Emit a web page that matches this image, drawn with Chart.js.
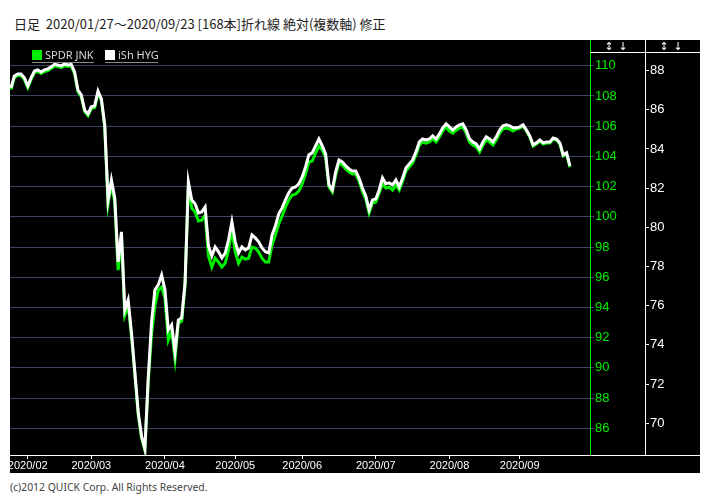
<!DOCTYPE html>
<html><head><meta charset="utf-8">
<script src="https://cdn.jsdelivr.net/npm/chart.js@4"></script>
<style>
html,body{margin:0;padding:0;background:#fff;width:711px;height:504px;overflow:hidden;position:relative;}
#title{position:absolute;left:14px;top:15px;font:13px "Noto Sans CJK JP";color:#222;white-space:pre;line-height:18px;}
#wrap{position:absolute;left:10px;top:40px;width:690px;height:433px;background:#000;}
#wrap canvas{display:block;}
.sq{position:absolute;width:10px;height:10px;}
.lt{position:absolute;font:11px "Noto Sans";color:#d8d8d8;line-height:13px;white-space:pre;}
.ul{position:absolute;height:1px;background:#8a8a8a;}
.ar{position:absolute;font:11px "DejaVu Sans";color:#fff;line-height:12px;width:12px;text-align:center;}
#foot{position:absolute;left:10px;top:480px;font:10.4px "Noto Sans";color:#444;line-height:14px;white-space:pre;}
</style></head>
<body>
<div id="title">日足  2020/01/27～2020/09/23 [168本]折れ線 絶対(複数軸) 修正</div>
<div id="wrap"><canvas id="c" width="690" height="433"></canvas></div>
<div class="sq" style="left:32px;top:50px;background:#00ee00"></div>
<div class="lt" style="left:45px;top:48px">SPDR JNK</div>
<div class="ul" style="left:32px;top:62px;width:62px"></div>
<div class="sq" style="left:105px;top:50px;background:#fff"></div>
<div class="lt" style="left:118px;top:48px">iSh HYG</div>
<div class="ul" style="left:105px;top:62px;width:53px"></div>
<div class="ar" style="left:603px;top:41px">↕</div>
<div class="ar" style="left:617px;top:41px">↓</div>
<div class="ar" style="left:658px;top:41px">↕</div>
<div class="ar" style="left:672px;top:41px">↓</div>
<div id="foot">(c)2012 QUICK Corp. All Rights Reserved.</div>
<script>
const monthIdx = [5, 24, 46, 67, 87, 109, 131, 152];
const monthLabels = ["2020/02","2020/03","2020/04","2020/05","2020/06","2020/07","2020/08","2020/09"];
const jnkTicks = [86,88,90,92,94,96,98,100,102,104,106,108,110];
const hygTicks = [70,72,74,76,78,80,82,84,86,88];

const jnkValues = [
108.42,109.22,109.35,109.35,109.09,108.56,109.09,109.55,109.62,109.48,
109.62,109.68,109.81,109.98,109.95,109.88,110.01,109.95,109.98,109.48,
108.29,107.96,106.97,106.70,107.17,107.23,108.23,107.70,105.97,100.84,
102.17,100.97,96.47,98.66,93.49,94.15,92.10,89.58,86.93,85.34,
84.55,89.05,92.23,94.09,95.15,95.34,94.62,91.83,92.43,90.58,
92.96,93.09,95.41,102.10,100.58,100.31,99.72,99.78,100.11,97.40,
96.67,97.26,97.00,96.67,96.93,97.79,99.12,97.66,96.93,97.33,
97.20,97.26,97.99,97.93,97.66,97.26,97.00,97.00,98.13,98.79,
99.52,100.05,100.64,101.11,101.44,101.50,101.70,102.17,102.83,103.62,
103.69,104.22,104.68,104.42,103.95,101.97,101.64,102.76,103.56,103.42,
103.16,102.96,102.83,102.83,102.36,101.70,101.17,100.25,100.91,100.97,
101.57,102.17,101.90,101.97,101.77,102.10,101.77,102.36,103.03,103.29,
103.56,104.09,104.75,104.95,104.88,104.95,105.15,104.95,105.28,105.68,
105.94,105.68,105.54,105.74,105.87,105.94,105.54,104.95,104.75,104.62,
104.29,104.75,105.08,104.95,104.75,105.08,105.54,105.81,105.87,105.81,
105.68,105.81,105.87,106.01,105.68,105.28,104.68,104.81,105.01,104.81,
104.88,104.88,105.15,105.08,104.81,104.02,104.15,103.29
];
const hygValues = [
87.12,87.73,87.83,87.83,87.63,87.22,87.63,87.98,88.04,87.93,
88.04,88.09,88.19,88.32,88.29,88.24,88.34,88.29,88.32,87.93,
87.01,86.76,85.99,85.79,86.15,86.20,86.96,86.56,85.23,81.40,
82.42,81.50,78.24,79.77,75.78,76.30,74.61,72.62,70.58,69.35,
68.69,72.31,75.17,76.81,77.06,77.57,76.81,74.76,75.02,73.64,
75.27,75.38,77.16,82.32,81.40,81.20,80.74,80.79,81.04,79.05,
78.54,79.00,78.75,78.44,78.69,79.36,80.28,79.26,78.69,79.00,
78.85,78.95,79.61,79.46,79.26,78.95,78.75,78.69,79.61,80.07,
80.69,80.99,81.40,81.76,82.01,82.06,82.22,82.57,83.08,83.70,
83.80,84.16,84.51,84.16,83.75,82.17,81.91,82.83,83.44,83.34,
83.14,82.98,82.88,82.88,82.52,82.01,81.60,80.89,81.40,81.45,
81.91,82.52,82.22,82.27,82.17,82.42,82.06,82.52,83.03,83.24,
83.44,83.85,84.36,84.51,84.46,84.51,84.67,84.51,84.77,85.08,
85.28,85.13,84.97,85.13,85.23,85.28,84.97,84.51,84.36,84.26,
84.00,84.36,84.62,84.51,84.36,84.62,84.97,85.18,85.23,85.18,
85.08,85.08,85.13,85.23,84.97,84.67,84.21,84.31,84.46,84.31,
84.36,84.36,84.56,84.51,84.31,83.70,83.80,83.14
];

const GREEN = '#00ee00';
const GRID = '#3b4262';

const frame = {
  id: 'frame',
  afterDraw(chart) {
    const {ctx, chartArea: a, scales} = chart;
    const yJ = scales.yJ, yH = scales.yH;
    ctx.save();
    ctx.lineWidth = 1;
    ctx.strokeStyle = GREEN;
    ctx.beginPath(); ctx.moveTo(Math.round(yJ.left) + 0.5, 0); ctx.lineTo(Math.round(yJ.left) + 0.5, a.bottom); ctx.stroke();
    ctx.strokeStyle = '#fff';
    ctx.beginPath(); ctx.moveTo(Math.round(yH.left) + 0.5, 0); ctx.lineTo(Math.round(yH.left) + 0.5, a.bottom); ctx.stroke();
    ctx.beginPath(); ctx.moveTo(Math.round(yJ.left), Math.round(a.top) + 0.5); ctx.lineTo(chart.width, Math.round(a.top) + 0.5); ctx.stroke();
    ctx.beginPath(); ctx.moveTo(0, Math.round(a.bottom) + 0.5); ctx.lineTo(chart.width, Math.round(a.bottom) + 0.5); ctx.stroke();
    ctx.restore();
  }
};

new Chart(document.getElementById('c'), {
  type: 'line',
  data: {
    datasets: [
      { label: 'SPDR JNK', data: jnkValues.map((v, i) => ({x: i, y: v})), yAxisID: 'yJ',
        borderColor: GREEN, borderWidth: 3, pointRadius: 0, tension: 0, order: 1 },
      { label: 'iSh HYG', data: hygValues.map((v, i) => ({x: i, y: v})), yAxisID: 'yH',
        borderColor: '#ffffff', borderWidth: 3, pointRadius: 0, tension: 0, order: 0 }
    ]
  },
  options: {
    responsive: false, animation: false,
    layout: { padding: { top: 12, left: 0, right: 0, bottom: 0 } },
    plugins: { legend: { display: false }, tooltip: { enabled: false }, title: { display: false } },
    scales: {
      x: {
        type: 'linear', min: -0.3, max: 173,
        afterBuildTicks: s => { s.ticks = monthIdx.map(v => ({value: v})); },
        ticks: { autoSkip: false, maxRotation: 0, minRotation: 0, color: '#fff', padding: 0,
          font: { family: 'Liberation Sans', size: 11 },
          callback: (v, i) => monthLabels[i] },
        grid: { drawOnChartArea: false, color: '#fff', tickLength: 4 },
        border: { display: false },
        afterFit: s => { s.height = 18; s.paddingLeft = 0; s.paddingRight = 0; }
      },
      yJ: {
        position: 'right', min: 84.23, max: 110.91,
        afterBuildTicks: s => { s.ticks = jnkTicks.map(v => ({value: v})); },
        ticks: { color: GREEN, padding: 1, font: { family: 'Liberation Sans', size: 13 } },
        grid: { color: GRID, tickLength: 4 },
        border: { display: false },
        afterFit: s => { s.width = 55; s.paddingTop = 0; s.paddingBottom = 0; }
      },
      yH: {
        position: 'right', min: 68.38, max: 88.95,
        afterBuildTicks: s => { s.ticks = hygTicks.map(v => ({value: v})); },
        ticks: { color: '#fff', padding: 1, font: { family: 'Liberation Sans', size: 13 } },
        grid: { drawOnChartArea: false, color: '#fff', tickLength: 4 },
        border: { display: false },
        afterFit: s => { s.width = 55; s.paddingTop = 0; s.paddingBottom = 0; }
      }
    }
  },
  plugins: [frame]
});
</script>
</body></html>
